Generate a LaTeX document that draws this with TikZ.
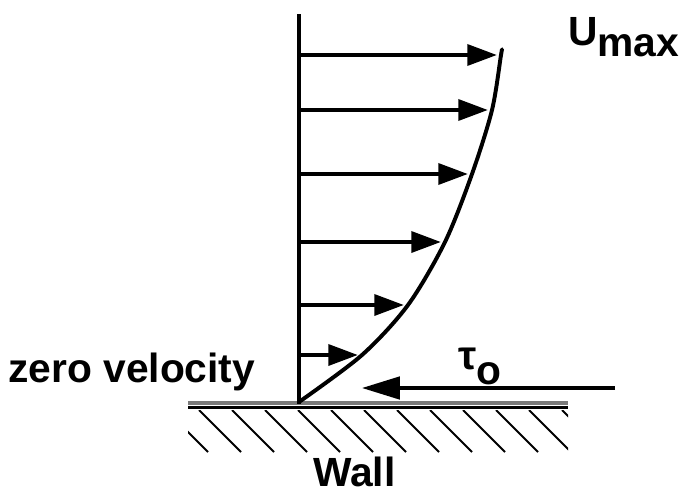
\documentclass[tikz,border=0pt]{standalone}
\usepackage{fontspec}
\setmainfont{Liberation Sans}
\usepackage{tikz}
\usetikzlibrary{arrows.meta}
\definecolor{ink}{HTML}{000000}
\definecolor{wallgray}{HTML}{7A7A7A}
\newcommand\lblfont{\fontsize{29}{32}\selectfont\bfseries}
\tikzset{
  axisline/.style={
    draw=ink,
    line width=3pt
  },
  profile/.style={
    draw=ink,
    line width=2.8pt,
    line join=round
  },
  velarrow/.style={
    -{Triangle[length=21pt,width=15pt]},
    draw=ink,
    line width=2.4pt,
    shorten >=3pt
  },
  shear/.style={
    -{Triangle[length=27pt,width=16pt]},
    draw=ink,
    line width=2.4pt
  },
  wallshade/.style={
    draw=wallgray,
    line width=3pt
  },
  wallline/.style={
    draw=ink,
    line width=2.4pt
  },
  hatchline/.style={
    draw=ink,
    line width=1.4pt
  },
  lbl/.style={
    font=\lblfont,
    text=ink,
    inner sep=0pt,
    anchor=base west
  }
}

\begin{document}
\begin{tikzpicture}[x=0.25mm,y=-0.25mm]
\useasboundingbox (0,0) rectangle (689,496);

% ---- Wall and its hatching ----
\coordinate (wallL) at (188,403);
\coordinate (wallR) at (568,403);
\coordinate (floorL) at (188,407.5);
\coordinate (floorR) at (568,407.5);
\draw[wallshade] (wallL) -- (wallR);
\draw[wallline] (floorL) -- (floorR);
\begin{scope}
  \clip (188,410) rectangle (568,452);
  \foreach \x in {133,166,...,570}
    \draw[hatchline] (\x,410) -- ++(42,42);
\end{scope}

% ---- Axis normal to the wall ----
\coordinate (top) at (299,14);
\coordinate (base) at (299,404);
\draw[axisline] (top) -- (base);

% ---- Velocity profile ----
\draw[profile] plot[smooth] coordinates {
  (299,402) (362,355) (408,305) (445,242) (472,174) (492,110) (501,55) (502,50)};

\foreach \y/\x [count=\i] in {55/501,110/492,174/472,242/445,305/408,355/362} {
  \coordinate (a\i) at (299,\y);
  \coordinate (c\i) at (\x,\y);
  \draw[velarrow] (a\i) -- (c\i);
}

% ---- Wall shear stress ----
\coordinate (tauend) at (615,388);
\coordinate (tautip) at (362,388);
\draw[shear] (tauend) -- (tautip);

% ---- Labels ----
\node[lbl] (zerovel) at (8,382) {zero velocity};
\node[lbl] (wall) at (313,486) {Wall};
\node[lbl] (umax) at (568,45) {U\raisebox{-8.5pt}{max}};
\node[lbl] (tau) at (458,369) {τ\raisebox{-11pt}{o}};

\end{tikzpicture}
\end{document}
